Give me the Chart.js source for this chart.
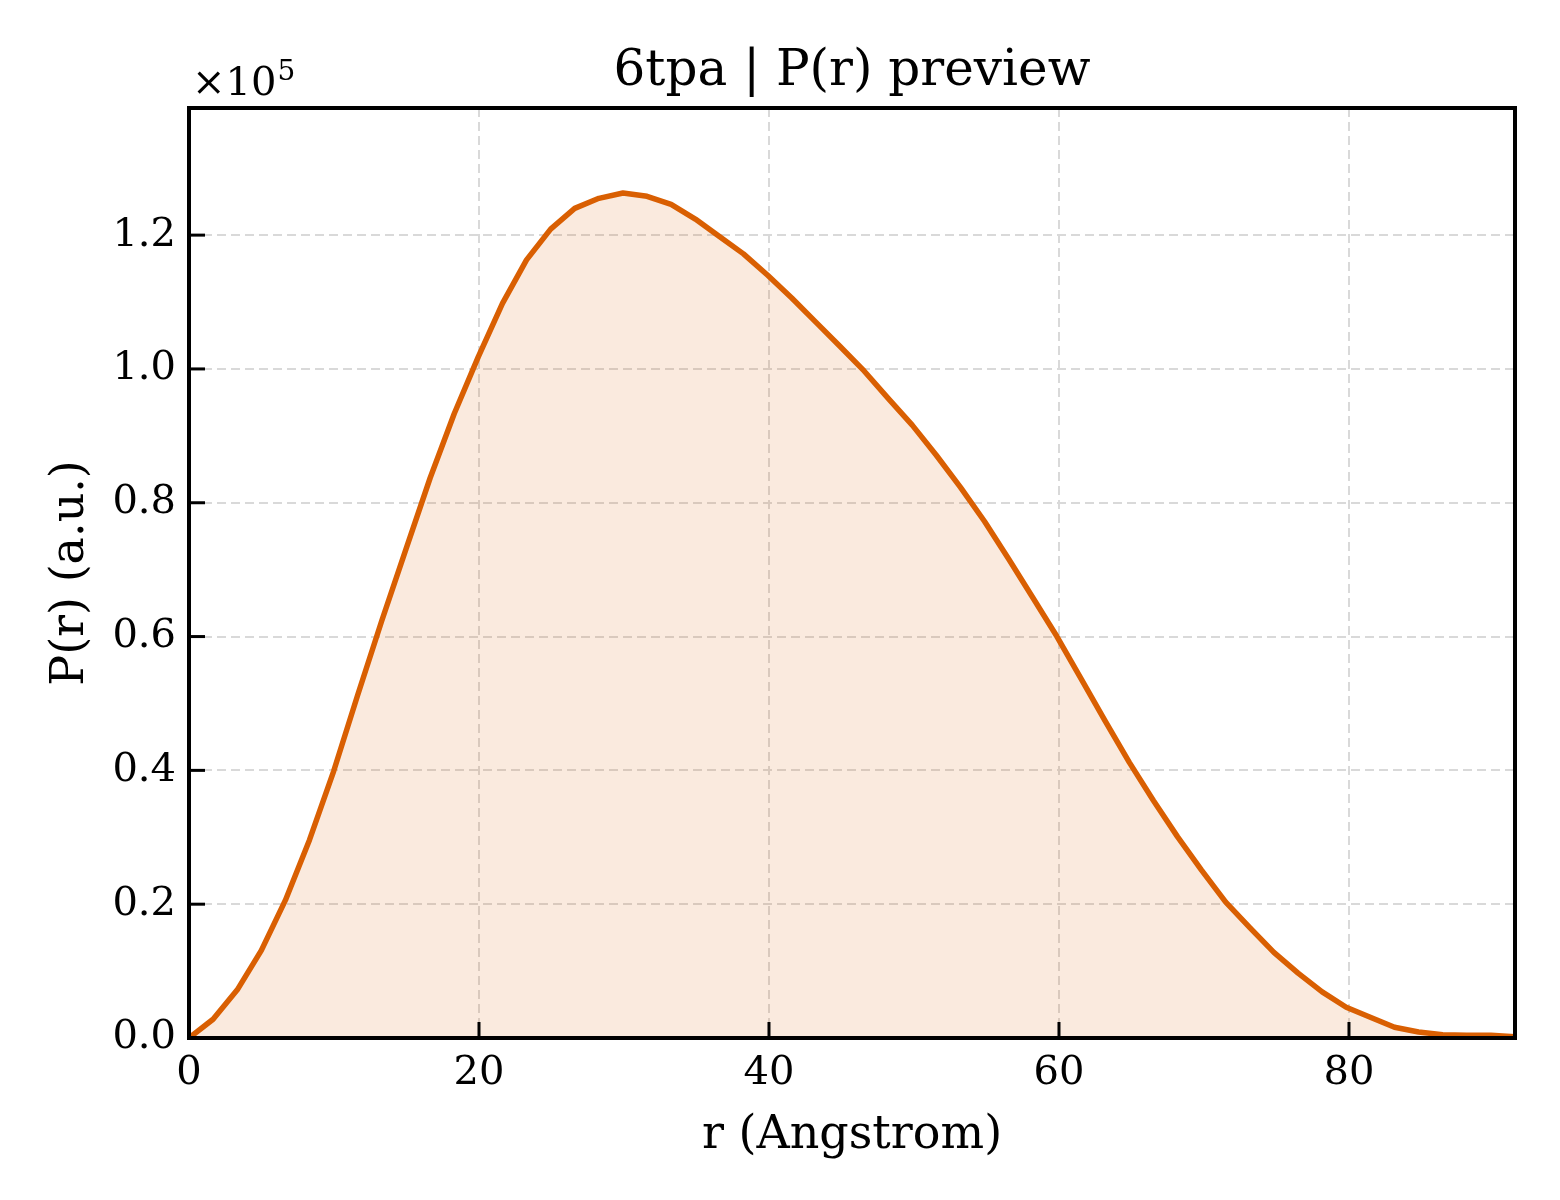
<!DOCTYPE html>
<html>
<head>
<meta charset="utf-8">
<script src="https://cdn.jsdelivr.net/npm/chart.js@4.4.1/dist/chart.umd.min.js"></script>
<style>
  html, body { margin:0; padding:0; background:#fff; }
  #wrap { width:1560px; height:1200px; }
</style>
</head>
<body>
<div id="wrap"><canvas id="chartPr" width="1560" height="1200"></canvas></div>
<script>
// r (Angstrom) sample positions
const rVals = [0, 1.66, 3.33, 4.99, 6.65, 8.31, 9.98, 11.64, 13.30, 14.97,
  16.63, 18.29, 19.95, 21.62, 23.28, 24.94, 26.60, 28.27, 29.93, 31.59,
  33.25, 34.92, 36.58, 38.24, 39.91, 41.57, 43.23, 44.89, 46.56, 48.22,
  49.88, 51.54, 53.21, 54.87, 56.53, 58.20, 59.86, 61.52, 63.18, 64.85,
  66.51, 68.17, 69.83, 71.50, 73.16, 74.82, 76.49, 78.15, 79.81, 81.47,
  83.14, 84.80, 86.46, 88.12, 89.79, 91.45];
// P(r) (a.u.)
const prVals = [0, 2800, 7200, 13100, 20600, 29600, 39900, 51300, 62400, 73100,
  83700, 93300, 101800, 109800, 116300, 120900, 124000, 125500, 126300, 125800,
  124600, 122400, 119800, 117200, 114000, 110600, 107000, 103400, 99700, 95600,
  91600, 87100, 82300, 77200, 71600, 65800, 60000, 53700, 47400, 41200,
  35500, 30100, 25100, 20300, 16500, 12800, 9700, 6900, 4600, 3100,
  1600, 900, 500, 400, 400, 200];
const yTicks = [0, 20000, 40000, 60000, 80000, 100000, 120000];
const xTicks = [0, 20, 40, 60, 80];

const chartTitle = '6tpa | P(r) preview';
const xLabel = 'r (Angstrom)';
const yLabel = 'P(r) (a.u.)';

const FONT = "'DejaVu Serif', serif";
const LINE = '#d95f02';

const framePlugin = {
  id: 'frame',
  afterDraw(chart){
    const {ctx, chartArea: a, scales} = chart;
    ctx.save();
    // inward tick marks
    ctx.strokeStyle = '#000';
    ctx.lineWidth = 3;
    scales.x.ticks.forEach(t=>{
      const px = scales.x.getPixelForValue(t.value);
      ctx.beginPath(); ctx.moveTo(px, a.bottom); ctx.lineTo(px, a.bottom-16); ctx.stroke();
    });
    scales.y.ticks.forEach(t=>{
      const py = scales.y.getPixelForValue(t.value);
      ctx.beginPath(); ctx.moveTo(a.left, py); ctx.lineTo(a.left+16, py); ctx.stroke();
    });
    // box
    ctx.lineWidth = 4;
    ctx.strokeRect(a.left, a.top, a.right-a.left, a.bottom-a.top);
    // title
    ctx.fillStyle = '#000';
    ctx.textAlign = 'center';
    ctx.textBaseline = 'alphabetic';
    ctx.font = '50px ' + FONT;
    ctx.fillText(chartTitle, (a.left+a.right)/2, 85);
    // offset text x10^5
    ctx.textAlign = 'left';
    ctx.font = '40px ' + FONT;
    ctx.fillText('\u00d710', a.left+3, 95);
    const w = ctx.measureText('\u00d710').width;
    ctx.font = '28px ' + FONT;
    ctx.fillText('5', a.left+3+w+1, 80);
    ctx.restore();
  }
};

new Chart(document.getElementById('chartPr'), {
  type: 'line',
  data: {
    datasets: [{
      data: rVals.map((r,i)=>({x:r, y:prVals[i]})),
      borderColor: LINE,
      borderWidth: 5.5,
      borderJoinStyle: 'round',
      backgroundColor: 'rgba(217,95,2,0.13)',
      fill: 'origin',
      pointRadius: 0,
      tension: 0
    }]
  },
  options: {
    responsive: false,
    devicePixelRatio: 1,
    animation: false,
    layout: { padding: { top: 108, right: 45, bottom: 0, left: 0 } },
    plugins: { legend: { display:false }, tooltip: { enabled:false }, title: { display:false } },
    scales: {
      x: {
        type: 'linear', min: 0, max: 91.45,
        afterBuildTicks: s=>{ s.ticks = xTicks.map(v=>({value:v})); },
        afterFit: s=>{ s.height = 162; },
        border: { display:false, dash:[9,5] },
        grid: { color:'#d9d9d9', lineWidth:2, drawTicks:false, tickLength:0 },
        ticks: { font:{ family:FONT, size:40 }, color:'#000', padding:12, maxRotation:0 },
        title: { display:true, text:xLabel, font:{ family:FONT, size:46 }, color:'#000', padding:{top:0,bottom:36} }
      },
      y: {
        min: 0, max: 139000,
        afterBuildTicks: s=>{ s.ticks = yTicks.map(v=>({value:v})); },
        afterFit: s=>{ s.width = 189; },
        border: { display:false, dash:[9,5] },
        grid: { color:'#d9d9d9', lineWidth:2, drawTicks:false, tickLength:0 },
        ticks: { font:{ family:FONT, size:40 }, color:'#000', padding:13, callback: v=> (v/1e5).toFixed(1) },
        title: { display:true, text:yLabel, font:{ family:FONT, size:46 }, color:'#000', padding:{top:43,bottom:0} }
      }
    }
  },
  plugins: [framePlugin]
});
</script>
</body>
</html>
